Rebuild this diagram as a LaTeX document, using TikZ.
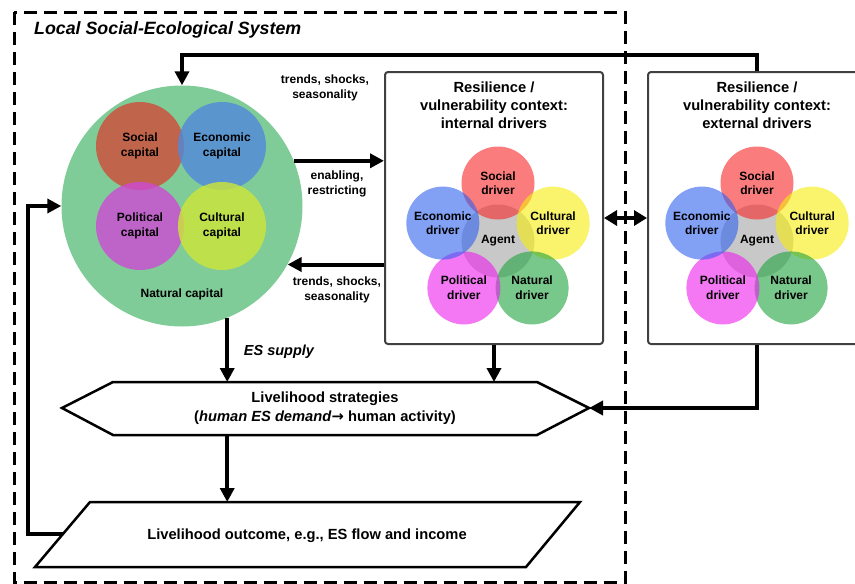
\documentclass[tikz,border=0pt]{standalone}
\usepackage{fontspec}
\setmainfont{Liberation Sans}
\newfontfamily\arrowfont{DejaVu Sans}
\usetikzlibrary{arrows.meta,calc}

% capital circles (inside the natural-capital disc)
\definecolor{natgreen}{RGB}{127,204,152}
\definecolor{capsoc}{RGB}{209,74,56}
\definecolor{capeco}{RGB}{81,136,219}
\definecolor{cappol}{RGB}{206,74,212}
\definecolor{capcul}{RGB}{206,230,56}
% driver circles
\definecolor{drvsoc}{RGB}{247,38,38}
\definecolor{drvcul}{RGB}{247,238,13}
\definecolor{drveco}{RGB}{47,97,238}
\definecolor{drvpol}{RGB}{238,30,238}
\definecolor{drvnat}{RGB}{30,163,63}
\definecolor{agentgray}{RGB}{200,200,200}
\definecolor{boxgray}{RGB}{64,64,64}

\newcommand{\driverring}[2]{%
  \node[drv, fill=agentgray, fill opacity=1] (#1agent) at (#2,241) {Agent};
  \node[drv, fill=drvsoc] (#1soc) at ($(#2,241)+(90:58pt)$) {Social\\driver};
  \node[drv, fill=drvcul] (#1cul) at ($(#2,241)+(18:58pt)$) {Cultural\\driver};
  \node[drv, fill=drvnat] (#1nat) at ($(#2,241)+(-54:58pt)$) {Natural\\driver};
  \node[drv, fill=drvpol] (#1pol) at ($(#2,241)+(-126:58pt)$) {Political\\driver};
  \node[drv, fill=drveco] (#1eco) at ($(#2,241)+(162:58pt)$) {Economic\\driver};
}

\begin{document}
\begin{tikzpicture}[x=1pt,y=-1pt,
  lbl/.style={font=\fontsize{12}{14.5}\selectfont\bfseries, align=center, inner sep=0pt},
  ttl/.style={font=\fontsize{14.7}{18}\selectfont\bfseries, align=center, inner sep=0pt},
  body/.style={font=\fontsize{14.7}{19}\selectfont\bfseries, align=center, inner sep=0pt},
  capcirc/.style={circle, minimum size=88pt, inner sep=0pt, fill opacity=0.8, text opacity=1,
              font=\fontsize{12}{14.5}\selectfont\bfseries, align=center},
  drv/.style={circle, minimum size=73pt, inner sep=0pt, fill opacity=0.6, text opacity=1,
              font=\fontsize{12}{14.5}\selectfont\bfseries, align=center},
  ctxbox/.style={draw=boxgray, line width=2pt, rounded corners=3pt, fill=white,
                 minimum width=218pt, minimum height=272pt, inner sep=0pt},
  shapeline/.style={draw=black, line width=2.5pt, fill=white, line join=miter},
  arr/.style={line width=4pt, -{Triangle[length=14pt,width=14pt]}},
  dblarr/.style={line width=4pt, {Triangle[length=13pt,width=15pt]}-{Triangle[length=13pt,width=15pt]}},
  sysframe/.style={line width=3pt, dash pattern=on 13pt off 7pt}
]
\useasboundingbox (0,0) rectangle (855,584);

% system boundary
\draw[sysframe] (14,12) rectangle (625,582.5);
\node[font=\fontsize{17.8}{21}\selectfont\bfseries\itshape, anchor=base west, inner sep=0pt]
  (systitle) at (34,34) {Local Social-Ecological System};

% capitals
\node[circle, minimum size=241pt, inner sep=0pt, fill=natgreen] (nat) at (182,206) {};
\node[capcirc, fill=capsoc] (soccap) at (140,146) {Social\\capital};
\node[capcirc, fill=capeco] (ecocap) at (222,146) {Economic\\capital};
\node[capcirc, fill=cappol] (polcap) at (140,226) {Political\\capital};
\node[capcirc, fill=capcul] (culcap) at (222,226) {Cultural\\capital};
\node[lbl] (natlbl) at (182,294) {Natural capital};

% context boxes
\node[ctxbox] (int) at (494,208) {};
\node[ttl] (inttitle) at (494,105) {Resilience /\\vulnerability context:\\internal drivers};
\driverring{i}{498}

\node[ctxbox] (ext) at (757,208) {};
\node[ttl] (exttitle) at (757,105) {Resilience /\\vulnerability context:\\external drivers};
\driverring{e}{757}

% livelihood strategies (hexagon)
\coordinate (hl) at (62,408);
\coordinate (htl) at (113,382);
\coordinate (htr) at (537,382);
\coordinate (hr) at (589,408);
\coordinate (hbr) at (537,435);
\coordinate (hbl) at (113,435);
\draw[shapeline] (hl) -- (htl) -- (htr) -- (hr) -- (hbr) -- (hbl) -- cycle;
\node[body] (strat) at (325,408)
  {Livelihood strategies\\(\textit{human ES demand}{\arrowfont\bfseries →} human activity)};

% livelihood outcome (parallelogram)
\coordinate (ptl) at (90,502);
\coordinate (ptr) at (580,502);
\coordinate (pbr) at (526,567);
\coordinate (pbl) at (35,567);
\draw[shapeline] (ptl) -- (ptr) -- (pbr) -- (pbl) -- cycle;
\node[body] (outcome) at (307,536) {Livelihood outcome, e.g., ES flow and income};

% connectors
\coordinate (toprail) at (0,55);
\coordinate (fbrail) at (28,0);
\coordinate (pleft) at (63,534);

\draw[arr] (ext.north) -- (ext.north |- toprail) -| (nat.north);
\draw[arr] (nat.22) -- (nat.22 -| int.west);
\draw[arr] (nat.-29 -| int.west) -- (nat.-29);
\draw[dblarr] ([yshift=-10pt]int.east) -- ([yshift=-10pt]ext.west);
\draw[arr] (nat.-68) -- (nat.-68 |- htl);
\draw[arr] (int.south) -- (int.south |- htl);
\draw[arr] (ext.south) |- (hr);
\draw[arr] (nat.-68 |- hbl) -- (nat.-68 |- ptl);
\draw[arr] (pleft) -| (fbrail |- nat.west) -- (nat.west);

% connector labels
\node[lbl] (tsTop) at (325,88) {trends, shocks,\\seasonality};
\node[lbl] (enab) at (337,184) {enabling,\\restricting};
\node[lbl] (tsBot) at (337,290) {trends, shocks,\\seasonality};
\node[font=\fontsize{14.5}{17}\selectfont\bfseries\itshape, inner sep=0pt] (essup) at (279,352) {ES supply};

\end{tikzpicture}
\end{document}
